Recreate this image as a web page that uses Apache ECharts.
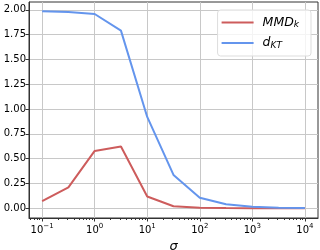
<!DOCTYPE html>
<html><head><meta charset="utf-8">
<script src="https://cdn.jsdelivr.net/npm/echarts@6/dist/echarts.min.js"></script>
<style>html,body{margin:0;padding:0;background:#fff}#c{width:320px;height:250px}</style>
</head><body><div id="c"></div>
<script>
var sigma = [0.1, 0.3162, 1, 3.162, 10, 31.62, 100, 316.2, 1000, 3162, 10000];
var mmd = [0.07, 0.21, 0.577, 0.622, 0.118, 0.02, 0.004, 0.001, 0, 0, 0];
var dkt = [1.985, 1.978, 1.958, 1.79, 0.92, 0.335, 0.105, 0.04, 0.015, 0.004, 0.001];
var seriesNames = ['MMD_k', 'd_KT'];
var xTickExps = [-1, 0, 1, 2, 3, 4];
var yTicks = [0, 0.25, 0.5, 0.75, 1.0, 1.25, 1.5, 1.75, 2.0];
var xMinorVals = [];
for (var d = -2; d <= 4; d++) for (var k = 2; k <= 9; k++) {
  var v = Math.log10(k) + d;
  if (v > -1.25 && v < 4.25) xMinorVals.push(v);
}
function pairs(ys) { return sigma.map(function (s, i) { return [Math.log10(s), ys[i]]; }); }
var FONT = 'DejaVu Sans';
var chart = echarts.init(document.getElementById('c'), null, {renderer: 'canvas'});
chart.setOption({
  animation: false,
  grid: {left: 29, right: 2, top: 2, bottom: 32, show: true, borderColor: '#333', borderWidth: 1,
         containLabel: false, outerBoundsMode: 'none'},
  xAxis: [{
    type: 'value', min: -1.25, max: 4.25,
    axisLine: {show: true, onZero: false, lineStyle: {color: '#333', width: 1}},
    axisTick: {show: true, customValues: xTickExps, length: 3.5, lineStyle: {color: '#333'}},
    splitLine: {show: true, lineStyle: {color: '#c8c8c8', width: 1}},
    axisLabel: {
      customValues: xTickExps, margin: 5, color: '#000',
      formatter: function (v) {
        var e = Math.round(v);
        return '{b|10}{s|' + (e < 0 ? '\u2212' + (-e) : e) + '}';
      },
      rich: {
        b: {fontFamily: FONT, fontSize: 10, color: '#000', lineHeight: 14},
        s: {fontFamily: FONT, fontSize: 7, color: '#000', verticalAlign: 'top', lineHeight: 9}
      }
    },
    name: 'σ', nameLocation: 'middle', nameGap: 17,
    nameTextStyle: {fontFamily: FONT, fontStyle: 'italic', fontSize: 13, color: '#000'}
  }, {
    type: 'value', min: -1.25, max: 4.25, position: 'bottom',
    axisLine: {show: false, onZero: false},
    axisTick: {show: true, customValues: xMinorVals, length: 2, lineStyle: {color: '#333'}},
    axisLabel: {show: false}, splitLine: {show: false}
  }],
  yAxis: {
    type: 'value', min: -0.099, max: 2.079,
    axisLine: {show: true, onZero: false, lineStyle: {color: '#333', width: 1}},
    axisTick: {show: true, customValues: yTicks, length: 3.5, lineStyle: {color: '#333'}},
    splitLine: {show: true, lineStyle: {color: '#c8c8c8', width: 1}},
    axisLabel: {customValues: yTicks, margin: 3, color: '#000', fontFamily: FONT, fontSize: 10,
      formatter: function (v) { return v.toFixed(2); }}
  },
  legend: {
    right: 9, top: 10, orient: 'vertical', itemGap: 7,
    icon: 'rect', itemWidth: 32, itemHeight: 2,
    padding: [6, 12, 6, 4],
    borderColor: '#dddddd', borderWidth: 1, borderRadius: 3, backgroundColor: 'rgba(255,255,255,0.8)',
    formatter: function (n) {
      var p = n.split('_');
      return '{i|' + p[0] + '}{s|' + p[1] + '}';
    },
    textStyle: {
      padding: [0, 0, 0, 4],
      rich: {
        i: {fontFamily: FONT, fontStyle: 'italic', fontSize: 12.5, color: '#000', lineHeight: 14},
        s: {fontFamily: FONT, fontStyle: 'italic', fontSize: 9, color: '#000', verticalAlign: 'bottom', lineHeight: 9, padding: [4, 0, 0, 0]}
      }
    },
    data: seriesNames
  },
  series: [
    {name: seriesNames[0], type: 'line', data: pairs(mmd), showSymbol: false, symbol: 'none',
     lineStyle: {color: '#cd5c5c', width: 2}, itemStyle: {color: '#cd5c5c'}},
    {name: seriesNames[1], type: 'line', data: pairs(dkt), showSymbol: false, symbol: 'none',
     lineStyle: {color: '#6495ed', width: 2}, itemStyle: {color: '#6495ed'}}
  ]
});
</script></body></html>
